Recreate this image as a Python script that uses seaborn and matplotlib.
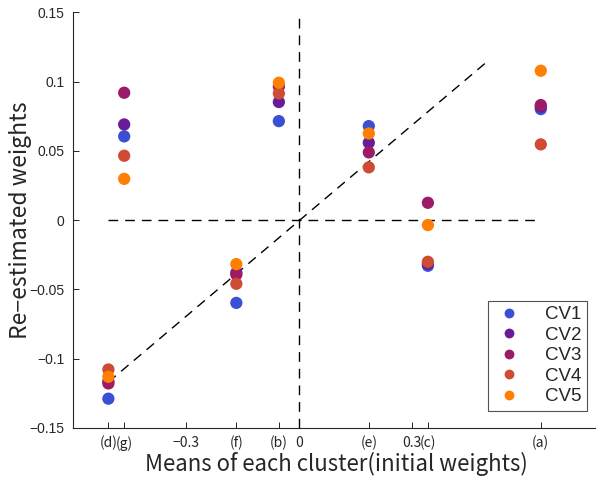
import numpy as np
import pandas as pd
import matplotlib
matplotlib.use("Agg")
import matplotlib.pyplot as plt
import seaborn as sns

# cluster labels and their means (initial weights)
clusters = ["(d)", "(g)", "(f)", "(b)", "(e)", "(c)", "(a)"]
cluster_means = [-0.506, -0.464, -0.166, -0.053, 0.186, 0.343, 0.643]

# re-estimated weights per cross-validation fold
cv1 = [-0.129, 0.0605, -0.0598, 0.0715, 0.0679, -0.033, 0.0802]
cv2 = [-0.1165, 0.0691, -0.038, 0.0853, 0.0559, -0.0315, 0.082]
cv3 = [-0.118, 0.092, -0.0393, 0.0965, 0.0489, 0.0125, 0.0831]
cv4 = [-0.1079, 0.0465, -0.046, 0.0915, 0.0381, -0.0301, 0.0547]
cv5 = [-0.1132, 0.0298, -0.0318, 0.0992, 0.0626, -0.0036, 0.1079]

fold_names = ["CV1", "CV2", "CV3", "CV4", "CV5"]
fold_colors = ["#3a4fd3", "#6a1b9a", "#9b1b66", "#cf4b33", "#ff8000"]

# reference lines
diag_x = [-0.506, 0.507]
diag_y = [-0.117, 0.116]

extra_ticks = [-0.3, 0.0, 0.3]
extra_labels = ["\u22120.3", "0", "0.3"]
y_ticks = [-0.15, -0.1, -0.05, 0, 0.05, 0.1, 0.15]
y_labels = ["\u22120.15", "\u22120.1", "\u22120.05", "0", "0.05", "0.1", "0.15"]

rows = []
for name, vals in zip(fold_names, [cv1, cv2, cv3, cv4, cv5]):
    for c, m, v in zip(clusters, cluster_means, vals):
        rows.append({"cluster": c, "mean": m, "weight": v, "fold": name})
df = pd.DataFrame(rows)

sns.set_style("white")
plt.rcParams["font.family"] = ["Noto Sans CJK JP", "DejaVu Sans"]

fig = plt.figure(figsize=(5.96, 4.79), dpi=100)
ax = fig.add_axes([0.1225, 0.107, 0.884, 0.867])

ax.plot([0, 0], [-0.15, 0.15], color="black", lw=1, ls=(0, (7, 5)), zorder=1)
ax.plot([cluster_means[0], cluster_means[-1]], [0, 0], color="black", lw=1,
        ls=(0, (7, 5)), zorder=1)
ax.plot(diag_x, diag_y, color="black", lw=1, ls=(0, (7, 5)), zorder=1)

sns.scatterplot(data=df, x="mean", y="weight", hue="fold", hue_order=fold_names,
                palette=fold_colors, s=78, linewidth=0, alpha=1, ax=ax, zorder=3)

ax.set_xlim(-0.6, 0.8)
ax.set_ylim(-0.15, 0.15)

xt = cluster_means + extra_ticks
xl = clusters + extra_labels
ax.set_xticks(xt)
ax.set_xticklabels(xl, fontsize=10)
ax.set_yticks(y_ticks)
ax.set_yticklabels(y_labels, fontsize=10, family=["Liberation Sans", "DejaVu Sans"])
ax.tick_params(bottom=True, left=True, direction="in", length=4, width=0.7,
               colors="#262626", pad=6)

for side in ["top", "right"]:
    ax.spines[side].set_visible(False)
for side in ["left", "bottom"]:
    ax.spines[side].set_color("#262626")
    ax.spines[side].set_linewidth(0.8)

ax.set_xlabel("Means of each cluster(initial weights)", fontsize=16, labelpad=1)
ax.set_ylabel("Re\u2212estimated weights", fontsize=16.5, labelpad=-2)

leg = ax.legend(loc="lower right", bbox_to_anchor=(0.993, 0.018),
                prop={"family": ["Liberation Sans", "DejaVu Sans"], "size": 13.5},
                frameon=True, fancybox=False, edgecolor="#262626",
                handletextpad=1.1, handlelength=1.6, borderpad=0.3,
                labelspacing=0.18, markerscale=0.8)
leg.get_frame().set_linewidth(0.8)

fig.savefig("out.png", dpi=100)
